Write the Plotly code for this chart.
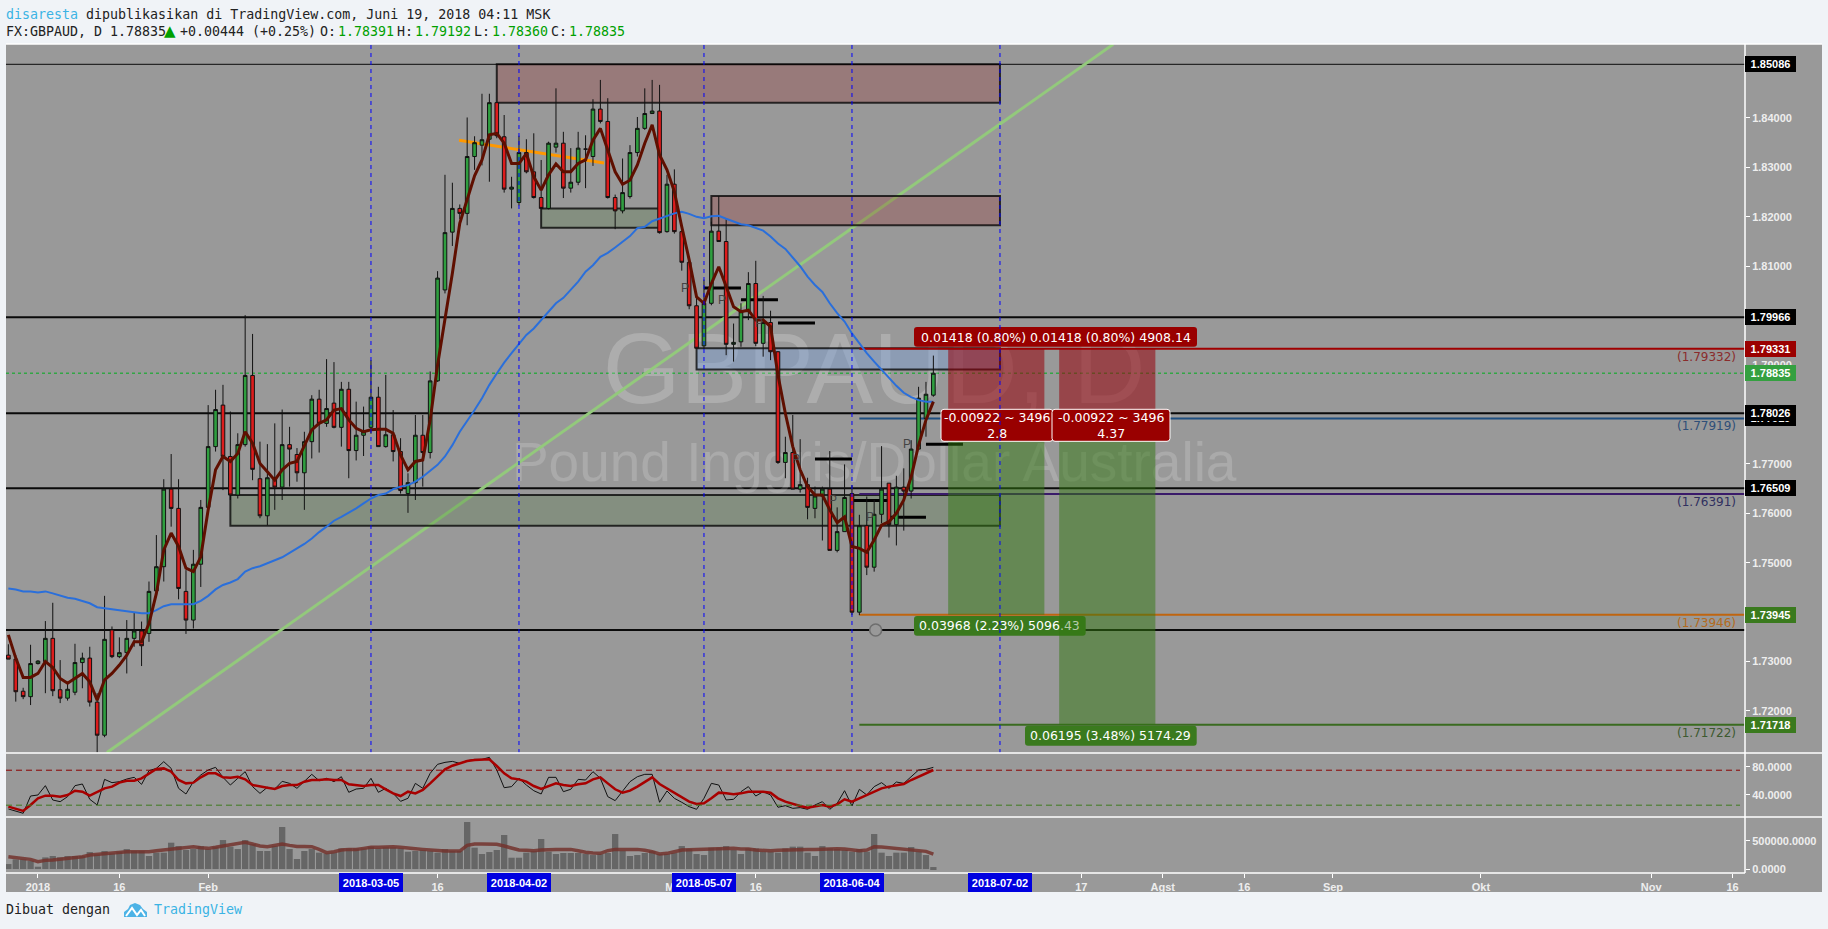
import numpy as np
import pandas as pd
import plotly.graph_objs as go

# daily bars, 2017-12-26 to 2018-06-19
bar_dates = pd.bdate_range("2017-12-26", periods=126)

opens = [
    1.7313, 1.7305, 1.7240, 1.7229, 1.7296, 1.7300, 1.7347, 1.7243, 1.7226, 1.7238,
    1.7298, 1.7307, 1.7218, 1.7151, 1.7364, 1.7310, 1.7318, 1.7347, 1.7362, 1.7357,
    1.7443, 1.7492, 1.7649, 1.7610, 1.7442, 1.7384, 1.7497, 1.7612, 1.7735, 1.7819,
    1.7715, 1.7637, 1.7739, 1.7879, 1.7670, 1.7595, 1.7672, 1.7653, 1.7739, 1.7719,
    1.7682, 1.7745, 1.7831, 1.7782, 1.7823, 1.7774, 1.7851, 1.7727, 1.7758, 1.7774,
    1.7835, 1.7735, 1.7759, 1.7725, 1.7640, 1.7662, 1.7758, 1.7723, 1.7868, 1.8052,
    1.8169, 1.8217, 1.8207, 1.8322, 1.8345, 1.8357, 1.8431, 1.8362, 1.8256, 1.8229,
    1.8330, 1.8291, 1.8239, 1.8217, 1.8341, 1.8349, 1.8258, 1.8270, 1.8337, 1.8322,
    1.8418, 1.8393, 1.8239, 1.8212, 1.8241, 1.8330, 1.8379, 1.8409, 1.8414, 1.8170,
    1.8266, 1.8170, 1.8108, 1.8020, 1.7939, 1.8025, 1.8171, 1.8150, 1.7942, 1.7947,
    1.8008, 1.8065, 1.7944, 1.7986, 1.7927, 1.7703, 1.7723, 1.7649, 1.7658, 1.7610,
    1.7635, 1.7649, 1.7525, 1.7563, 1.7640, 1.7400, 1.7575, 1.7491, 1.7598, 1.7661,
    1.7577, 1.7653, 1.7645, 1.7730, 1.7792, 1.78391,
]
highs = [
    1.7335, 1.7313, 1.7247, 1.7334, 1.7303, 1.7382, 1.7419, 1.7303, 1.7255, 1.7336,
    1.7318, 1.7330, 1.7236, 1.7433, 1.7371, 1.7349, 1.7384, 1.7399, 1.7381, 1.7462,
    1.7556, 1.7669, 1.7720, 1.7669, 1.7485, 1.7526, 1.7627, 1.7819, 1.7850, 1.7860,
    1.7806, 1.7762, 1.8001, 1.7963, 1.7745, 1.7740, 1.7782, 1.7810, 1.7775, 1.7732,
    1.7765, 1.7839, 1.7850, 1.7912, 1.7906, 1.7866, 1.7866, 1.7826, 1.7816, 1.7910,
    1.7856, 1.7880, 1.7809, 1.7752, 1.7681, 1.7799, 1.7799, 1.7887, 1.8090, 1.8285,
    1.8269, 1.8225, 1.8401, 1.8363, 1.8449, 1.8449, 1.8431, 1.8406, 1.8281, 1.8364,
    1.8357, 1.8369, 1.8315, 1.8352, 1.8460, 1.8372, 1.8339, 1.8372, 1.8365, 1.8438,
    1.8477, 1.8440, 1.8245, 1.8318, 1.8345, 1.8402, 1.8460, 1.8477, 1.8467, 1.8285,
    1.8296, 1.8178, 1.8112, 1.8038, 1.8073, 1.8190, 1.8242, 1.8195, 1.7984, 1.8025,
    1.8088, 1.8111, 1.8040, 1.8010, 1.7928, 1.7755, 1.7799, 1.7750, 1.7672, 1.7654,
    1.7654, 1.7726, 1.7612, 1.7699, 1.7657, 1.7597, 1.7634, 1.7627, 1.7736, 1.7661,
    1.7676, 1.7691, 1.7748, 1.7856, 1.7866, 1.79192,
]
lows = [
    1.7305, 1.7219, 1.7224, 1.7212, 1.7294, 1.7236, 1.7230, 1.7216, 1.7221, 1.7232,
    1.7246, 1.7209, 1.7116, 1.7147, 1.7307, 1.7307, 1.7276, 1.7330, 1.7291, 1.7340,
    1.7438, 1.7462, 1.7573, 1.7426, 1.7356, 1.7367, 1.7451, 1.7610, 1.7725, 1.7647,
    1.7627, 1.7630, 1.7735, 1.7667, 1.7590, 1.7576, 1.7607, 1.7627, 1.7654, 1.7664,
    1.7607, 1.7711, 1.7723, 1.7775, 1.7772, 1.7735, 1.7671, 1.7707, 1.7716, 1.7761,
    1.7735, 1.7733, 1.7705, 1.7640, 1.7601, 1.7627, 1.7654, 1.7711, 1.7866, 1.8045,
    1.8141, 1.8195, 1.8183, 1.8295, 1.8304, 1.8271, 1.8359, 1.8249, 1.8217, 1.8223,
    1.8288, 1.8237, 1.8217, 1.8215, 1.8330, 1.8238, 1.8249, 1.8264, 1.8258, 1.8303,
    1.8389, 1.8237, 1.8175, 1.8207, 1.8237, 1.8322, 1.8376, 1.8408, 1.8166, 1.8168,
    1.8166, 1.8091, 1.8013, 1.7933, 1.7933, 1.8021, 1.8150, 1.7920, 1.7907, 1.7937,
    1.7991, 1.7938, 1.7917, 1.7910, 1.7700, 1.7671, 1.7649, 1.7642, 1.7588, 1.7590,
    1.7545, 1.7525, 1.7521, 1.7563, 1.7394, 1.7394, 1.7475, 1.7482, 1.7580, 1.7551,
    1.7535, 1.7565, 1.7630, 1.7729, 1.7755, 1.78360,
]
closes = [
    1.7305, 1.7239, 1.7229, 1.7296, 1.7301, 1.7347, 1.7241, 1.7226, 1.7244, 1.7298,
    1.7307, 1.7218, 1.7151, 1.7345, 1.7310, 1.7318, 1.7347, 1.7362, 1.7332, 1.7442,
    1.7492, 1.7649, 1.7610, 1.7448, 1.7384, 1.7497, 1.7612, 1.7735, 1.7810, 1.7715,
    1.7637, 1.7739, 1.7879, 1.7689, 1.7595, 1.7672, 1.7653, 1.7739, 1.7730, 1.7682,
    1.7745, 1.7831, 1.7782, 1.7812, 1.7774, 1.7851, 1.7727, 1.7758, 1.7765, 1.7835,
    1.7735, 1.7759, 1.7725, 1.7646, 1.7662, 1.7758, 1.7723, 1.7868, 1.8076, 1.8168,
    1.8217, 1.8207, 1.8322, 1.8350, 1.8356, 1.8431, 1.8364, 1.8256, 1.8260, 1.8330,
    1.8291, 1.8239, 1.8217, 1.8349, 1.8349, 1.8258, 1.8270, 1.8339, 1.8337, 1.8418,
    1.8393, 1.8239, 1.8212, 1.8249, 1.8330, 1.8379, 1.8409, 1.8414, 1.8168, 1.8266,
    1.8170, 1.8108, 1.8020, 1.7934, 1.8025, 1.8171, 1.8150, 1.7942, 1.7946, 1.8008,
    1.8065, 1.7944, 1.7986, 1.7927, 1.7703, 1.7723, 1.7649, 1.7658, 1.7612, 1.7635,
    1.7649, 1.7525, 1.7563, 1.7632, 1.7400, 1.7575, 1.7491, 1.7598, 1.7649, 1.7577,
    1.7653, 1.7645, 1.7730, 1.7833, 1.7841, 1.78835,
]
fast_ma = [
    1.7354, 1.7307, 1.7268, 1.7268, 1.7276, 1.7300, 1.7288, 1.7266, 1.7256, 1.7266,
    1.7276, 1.7259, 1.7222, 1.7263, 1.7276, 1.7293, 1.7313, 1.7340, 1.7340, 1.7377,
    1.7438, 1.7526, 1.7560, 1.7533, 1.7489, 1.7482, 1.7512, 1.7607, 1.7688, 1.7715,
    1.7705, 1.7721, 1.7765, 1.7742, 1.7701, 1.7684, 1.7667, 1.7688, 1.7701, 1.7705,
    1.7738, 1.7769, 1.7782, 1.7789, 1.7809, 1.7812, 1.7789, 1.7772, 1.7765, 1.7769,
    1.7770, 1.7770, 1.7762, 1.7718, 1.7688, 1.7705, 1.7708, 1.7789, 1.7900, 1.7990,
    1.8086, 1.8187, 1.8234, 1.8283, 1.8315, 1.8366, 1.8369, 1.8349, 1.8308, 1.8308,
    1.8328, 1.8281, 1.8254, 1.8285, 1.8307, 1.8291, 1.8291, 1.8308, 1.8315, 1.8355,
    1.8379, 1.8335, 1.8291, 1.8266, 1.8274, 1.8305, 1.8349, 1.8386, 1.8325, 1.8295,
    1.8251, 1.8180, 1.8113, 1.8038, 1.8025, 1.8065, 1.8099, 1.8059, 1.8018, 1.8008,
    1.8011, 1.7991, 1.7991, 1.7978, 1.7880, 1.7802, 1.7735, 1.7688, 1.7654, 1.7637,
    1.7637, 1.7607, 1.7581, 1.7593, 1.7533, 1.7529, 1.7521, 1.7546, 1.7576, 1.7583,
    1.7600, 1.7627, 1.7674, 1.7738, 1.7789, 1.7826,
]
slow_ma = [
    1.7448, 1.7446, 1.7442, 1.7442, 1.7440, 1.7442, 1.7438, 1.7433, 1.7429, 1.7427,
    1.7423, 1.7418, 1.7410, 1.7408, 1.7406, 1.7404, 1.7402, 1.7400, 1.7398, 1.7398,
    1.7404, 1.7412, 1.7416, 1.7416, 1.7416, 1.7416, 1.7423, 1.7433, 1.7446, 1.7455,
    1.7460, 1.7467, 1.7482, 1.7489, 1.7493, 1.7499, 1.7504, 1.7511, 1.7520, 1.7529,
    1.7538, 1.7549, 1.7562, 1.7573, 1.7585, 1.7593, 1.7601, 1.7610, 1.7620, 1.7630,
    1.7637, 1.7640, 1.7649, 1.7654, 1.7657, 1.7664, 1.7674, 1.7686, 1.7698, 1.7715,
    1.7738, 1.7765, 1.7786, 1.7809, 1.7833, 1.7860, 1.7883, 1.7905, 1.7924, 1.7943,
    1.7961, 1.7974, 1.7991, 1.8008, 1.8025, 1.8036, 1.8052, 1.8069, 1.8089, 1.8102,
    1.8119, 1.8127, 1.8138, 1.8150, 1.8161, 1.8177, 1.8180, 1.8191, 1.8196, 1.8202,
    1.8207, 1.8210, 1.8206, 1.8200, 1.8197, 1.8201, 1.8202, 1.8196, 1.8190, 1.8185,
    1.8183, 1.8178, 1.8172, 1.8160, 1.8146, 1.8135, 1.8118, 1.8100, 1.8079, 1.8062,
    1.8048, 1.8025, 1.8005, 1.7988, 1.7964, 1.7944, 1.7924, 1.7907, 1.7891, 1.7873,
    1.7858, 1.7844, 1.7835, 1.7829, 1.7826, 1.7826,
]
rsi = [
    19.6, 16.2, 13.4, 38.1, 39.6, 52.9, 32.4, 30.0, 37.2, 52.9,
    55.3, 33.4, 25.3, 61.9, 57.2, 58.6, 62.4, 64.8, 54.8, 74.3,
    77.6, 87.2, 77.6, 49.1, 41.0, 58.6, 68.1, 75.3, 79.1, 64.8,
    53.8, 63.4, 72.9, 51.5, 41.9, 50.5, 48.1, 59.1, 56.2, 49.1,
    58.6, 69.1, 60.0, 63.4, 58.6, 65.7, 43.4, 48.1, 49.1, 63.4,
    43.4, 49.1, 41.9, 30.5, 34.8, 56.2, 49.1, 70.5, 83.4, 86.2,
    87.6, 84.8, 88.6, 90.5, 90.5, 93.4, 75.3, 50.0, 51.5, 63.4,
    53.8, 45.7, 41.0, 64.8, 64.8, 44.3, 47.7, 61.9, 61.0, 72.9,
    63.4, 37.2, 31.5, 44.3, 58.6, 65.7, 69.1, 69.1, 29.1, 45.3,
    34.8, 29.1, 22.9, 19.1, 34.8, 56.2, 53.8, 32.4, 33.4, 44.3,
    51.5, 38.1, 44.3, 39.6, 22.0, 24.3, 20.5, 21.5, 19.1, 25.3,
    30.0, 19.1, 27.7, 45.7, 23.9, 47.7, 39.6, 51.5, 57.2, 49.1,
    58.1, 56.2, 65.7, 75.3, 76.2, 79.1,
]
rsi_ma = [
    22.9, 19.6, 16.7, 25.3, 34.8, 38.6, 38.6, 37.2, 39.6, 45.7,
    44.3, 38.6, 44.3, 49.1, 51.5, 57.2, 60.0, 60.0, 63.4, 70.5,
    76.7, 77.6, 72.9, 61.0, 56.2, 57.2, 64.8, 70.5, 70.5, 64.8,
    64.3, 65.7, 61.9, 53.8, 51.5, 50.0, 48.1, 52.4, 53.8, 53.8,
    58.6, 61.0, 61.0, 61.9, 61.0, 61.0, 54.8, 53.8, 52.4, 53.8,
    53.8, 47.7, 41.9, 38.1, 44.3, 41.9, 46.7, 56.2, 66.7, 76.2,
    81.4, 84.8, 88.1, 89.5, 89.5, 90.5, 81.0, 70.5, 63.4, 61.9,
    58.6, 52.4, 48.1, 52.4, 56.2, 53.8, 52.4, 54.8, 56.2, 61.9,
    64.8, 56.2, 47.7, 42.9, 45.7, 51.5, 58.6, 64.8, 55.3, 49.1,
    42.9, 37.2, 30.0, 26.7, 27.7, 34.8, 42.9, 41.9, 40.5, 41.9,
    44.3, 44.3, 44.3, 42.9, 34.8, 30.0, 26.7, 23.9, 21.5, 23.9,
    25.3, 22.9, 26.2, 33.4, 30.0, 34.8, 39.6, 44.3, 49.1, 51.5,
    52.9, 55.3, 61.0, 65.7, 70.5, 75.3,
]
volume = [
    88000, 171000, 171000, 147000, 41000, 206000, 230000, 206000, 230000, 230000,
    230000, 300000, 259000, 318000, 277000, 306000, 353000, 318000, 318000, 230000,
    289000, 289000, 465000, 406000, 336000, 353000, 406000, 353000, 395000, 512000,
    395000, 353000, 512000, 442000, 318000, 318000, 406000, 742000, 353000, 177000,
    318000, 353000, 289000, 277000, 289000, 365000, 365000, 365000, 365000, 395000,
    365000, 383000, 383000, 365000, 306000, 318000, 336000, 318000, 289000, 353000,
    318000, 318000, 830000, 377000, 265000, 300000, 336000, 601000, 200000, 200000,
    289000, 318000, 530000, 306000, 265000, 283000, 283000, 283000, 265000, 247000,
    265000, 283000, 618000, 324000, 230000, 247000, 283000, 318000, 265000, 265000,
    283000, 406000, 353000, 265000, 247000, 377000, 377000, 406000, 336000, 265000,
    365000, 365000, 306000, 306000, 289000, 365000, 395000, 395000, 289000, 230000,
    406000, 365000, 353000, 336000, 306000, 353000, 306000, 618000, 289000, 230000,
    289000, 289000, 389000, 306000, 247000, 35000,
]
volume_ma = [
    218000, 200000, 183000, 171000, 130000, 153000, 159000, 171000, 188000, 206000,
    218000, 247000, 259000, 277000, 289000, 306000, 306000, 306000, 306000, 306000,
    324000, 336000, 347000, 365000, 383000, 395000, 377000, 365000, 383000, 406000,
    424000, 453000, 471000, 442000, 406000, 395000, 424000, 442000, 418000, 400000,
    400000, 395000, 347000, 289000, 306000, 336000, 347000, 347000, 365000, 383000,
    383000, 389000, 395000, 383000, 365000, 359000, 347000, 336000, 318000, 318000,
    318000, 318000, 418000, 442000, 442000, 442000, 436000, 406000, 365000, 336000,
    330000, 324000, 336000, 347000, 347000, 347000, 347000, 324000, 295000, 283000,
    277000, 324000, 347000, 347000, 347000, 347000, 330000, 306000, 265000, 277000,
    306000, 336000, 342000, 347000, 347000, 353000, 359000, 365000, 365000, 353000,
    353000, 336000, 324000, 324000, 330000, 336000, 347000, 347000, 347000, 347000,
    353000, 359000, 359000, 353000, 342000, 324000, 336000, 395000, 389000, 377000,
    365000, 353000, 342000, 336000, 312000, 265000,
]

# horizontal levels and their axis badges
level_prices = [1.85086, 1.79966, 1.78026, 1.76509, 1.7364]
badge_prices = [1.77919, 1.85086, 1.79966, 1.79331, 1.78835, 1.78026, 1.76509, 1.73945, 1.71718]
badge_colors = ['#000000', '#000000', '#000000', '#9b0000', '#34a040', '#000000', '#000000',
                '#3a7a1e', '#3a7a1e']

# supply/demand zones: first bar, last bar, low, high
zone_start = [62, 91, 68, 26, 89]
zone_end = [130, 130, 84, 130, 130]
zone_low = [1.8431, 1.8183, 1.8178, 1.7575, 1.7891]
zone_high = [1.85086, 1.8242, 1.8217, 1.7637, 1.7934]
zone_fill = ['rgba(150,0,0,0.2)', 'rgba(150,0,0,0.2)', 'rgba(60,110,40,0.22)',
             'rgba(60,110,40,0.22)', 'rgba(120,160,220,0.4)']

# position tool
entry_price = 1.77919
stop_price = 1.79332
target_prices = [1.73946, 1.71722]
position_start = [123, 138]
position_end = [136, 151]
order_prices = [1.79332, 1.77919, 1.76391, 1.73946, 1.71722]
order_colors = ['#a00000', '#1f4f80', '#3a1a6a', '#c0650f', '#3a6b20']
order_text_colors = ['#8a2c2c', '#2f4f78', '#30305f', '#b36a20', '#3d5a30']

# pivots
pivot_start = [90, 95, 100, 105, 110, 115, 120]
pivot_price = [1.8056, 1.8032, 1.7985, 1.7710, 1.7626, 1.7592, 1.7740]

vline_dates = ['2018-03-05', '2018-04-02', '2018-05-07', '2018-06-04', '2018-07-02']

tick_dates = ['2018-01-01', '2018-01-16', '2018-02-01', '2018-03-05', '2018-03-16',
              '2018-04-02', '2018-05-01', '2018-05-07', '2018-05-16', '2018-06-04',
              '2018-07-02', '2018-07-17', '2018-08-01', '2018-08-16', '2018-09-03',
              '2018-10-01', '2018-11-01', '2018-11-16']
tick_labels = ['2018', '16', 'Feb', '', '16', '', 'Mei', '', '16', '', '',
               '17', 'Agst', '16', 'Sep', 'Okt', 'Nov', '16']

price_ticks = [1.72, 1.73, 1.75, 1.76, 1.77, 1.79, 1.81, 1.82, 1.83, 1.84]

for col in [opens, highs, lows, closes, fast_ma, slow_ma, rsi, rsi_ma, volume, volume_ma]:
    assert len(col) == len(bar_dates)

# page geometry, pixels of the 1828x929 window
WIDTH, HEIGHT = 1828, 929
LEFT, RIGHT, TOP, BOTTOM = 6, 1745, 44, 873
MAIN_BOTTOM, RSI_BOTTOM = 753, 817
BG = '#f0f3f7'
GRAY = '#999999'
TICK_FONT = dict(family='Liberation Sans', size=11, color='#eeeeee', weight='bold')
MONO = 'DejaVu Sans Mono'


def bar_no(date):
    """Position of a date on the business-day axis, 2018-01-01 is bar 0."""
    return int(np.busday_count('2018-01-01', str(date)[:10]))


def paper_x(px):
    return (px - LEFT) / (RIGHT - LEFT)


def paper_y(py):
    return (BOTTOM - py) / (BOTTOM - TOP)


def rounded_box(x0, y0, x1, y1, fill, border=None, r=3):
    """Label background with small round corners, given in page pixels."""
    pts = [('M', x0 + r, y0), ('L', x1 - r, y0), ('Q', x1, y0), ('', x1, y0 + r),
           ('L', x1, y1 - r), ('Q', x1, y1), ('', x1 - r, y1), ('L', x0 + r, y1),
           ('Q', x0, y1), ('', x0, y1 - r), ('L', x0, y0 + r), ('Q', x0, y0), ('', x0 + r, y0)]
    path = ' '.join('%s %.5f,%.5f' % (c, paper_x(a), paper_y(b)) for c, a, b in pts) + ' Z'
    return dict(type='path', xref='paper', yref='paper', layer='above', path=path,
                fillcolor=fill,
                line=dict(color=border, width=1) if border else dict(width=0))


x = [bar_no(d) for d in bar_dates]

fig = go.Figure()
fig.add_trace(go.Candlestick(
    x=x, open=opens, high=highs, low=lows, close=closes,
    increasing=dict(fillcolor='#2f9e3f', line=dict(color='#111111', width=1)),
    decreasing=dict(fillcolor='#dd1c1c', line=dict(color='#111111', width=1)),
    yaxis='y', hoverinfo='skip'))
fig.add_trace(go.Scatter(x=x, y=slow_ma, mode='lines', yaxis='y',
                         line=dict(color='#2a6fdb', width=2)))
fig.add_trace(go.Scatter(x=x, y=fast_ma, mode='lines', yaxis='y',
                         line=dict(color='#5f0f00', width=3)))
fig.add_trace(go.Scatter(x=[113.2], y=[level_prices[4]], mode='markers', yaxis='y',
                         marker=dict(size=12, color=GRAY,
                                     line=dict(color='#6e6e6e', width=1.5))))
fig.add_trace(go.Scatter(x=x, y=rsi, mode='lines', yaxis='y2',
                         line=dict(color='#111111', width=1)))
fig.add_trace(go.Scatter(x=x, y=rsi_ma, mode='lines', yaxis='y2',
                         line=dict(color='#a80000', width=2.5)))
fig.add_trace(go.Bar(x=x, y=volume, yaxis='y3', marker_color='#666666',
                     marker_line_width=0))
fig.add_trace(go.Scatter(x=x, y=volume_ma, mode='lines', yaxis='y3',
                         line=dict(color='rgba(115,50,45,0.85)', width=3.5)))

shapes = []
# gray card behind plot and scales
shapes.append(dict(type='rect', xref='paper', yref='paper', layer='below',
                   x0=0, x1=paper_x(1822), y0=paper_y(892), y1=1,
                   fillcolor=GRAY, line_width=0))
# watermark, kept under the candles
for txt, center, size, alpha in [('GBPAUD, D', 1.7912, 100, 0.2),
                                 ('Pound Inggris/Dollar Australia', 1.7714, 55, 0.17)]:
    shapes.append(dict(type='rect', xref='x', yref='y', layer='below',
                       x0=30, x1=196, y0=center - 0.01, y1=center + 0.01,
                       line_width=0, fillcolor='rgba(0,0,0,0)',
                       label=dict(text=txt, textposition='middle center',
                                  font=dict(family='Liberation Sans', size=size,
                                            color='rgba(255,255,255,%s)' % alpha))))
# levels
for i, p in enumerate(level_prices):
    shapes.append(dict(type='line', xref='paper', yref='y', layer='below',
                       x0=0, x1=1, y0=p, y1=p,
                       line=dict(color='#0a0a0a', width=1 if i == 0 else 2)))
# last price
shapes.append(dict(type='line', xref='paper', yref='y', layer='below',
                   x0=0, x1=1, y0=closes[-1], y1=closes[-1],
                   line=dict(color='#32a645', width=1.5, dash='dot')))
# trend lines
shapes.append(dict(type='line', xref='x', yref='y', layer='below',
                   x0=9.32, x1=145.3, y0=1.7116, y1=1.8549,
                   line=dict(color='#93c97c', width=3)))
shapes.append(dict(type='line', xref='x', yref='y', layer='below',
                   x0=56.9, x1=76.5, y0=1.8355, y1=1.8309,
                   line=dict(color='#ff9800', width=3)))
# zones
for x0, x1, y0, y1, fill in zip(zone_start, zone_end, zone_low, zone_high, zone_fill):
    shapes.append(dict(type='rect', xref='x', yref='y', layer='below',
                       x0=x0, x1=x1, y0=y0, y1=y1, fillcolor=fill,
                       line=dict(color='rgba(0,0,0,0.75)', width=2)))
# position tool
for p, c in zip(order_prices, order_colors):
    shapes.append(dict(type='line', xref='x', yref='y', layer='below',
                       x0=111, x1=230.6, y0=p, y1=p, line=dict(color=c, width=2)))
# label boxes that the green regions run over, so drawn before them
shapes.append(rounded_box(914, 616, 1085.7, 635.7, '#3a7a1e'))
for x0, x1, target in zip(position_start, position_end, target_prices):
    shapes.append(dict(type='rect', xref='x', yref='y', layer='above',
                       x0=x0, x1=x1, y0=entry_price, y1=stop_price,
                       fillcolor='rgba(150,0,10,0.55)', line_width=0))
    shapes.append(dict(type='rect', xref='x', yref='y', layer='above',
                       x0=x0, x1=x1, y0=target, y1=entry_price,
                       fillcolor='rgba(50,120,15,0.5)', line_width=0))
shapes.append(rounded_box(914, 327, 1197, 346.7, '#990000'))
shapes.append(rounded_box(941, 409.3, 1053, 441.3, '#990000', '#ffffff'))
shapes.append(rounded_box(1052, 409.3, 1170, 441.3, '#990000', '#ffffff'))
shapes.append(rounded_box(1025, 725.7, 1196.7, 745.7, '#3a7a1e'))
# pivots
for s, p in zip(pivot_start, pivot_price):
    shapes.append(dict(type='line', xref='x', yref='y', layer='below',
                       x0=s, x1=s + 5, y0=p, y1=p, line=dict(color='#000000', width=3)))
# date markers
for d in vline_dates:
    shapes.append(dict(type='line', xref='x', yref='y', layer='above',
                       x0=bar_no(d), x1=bar_no(d), y0=1.7115, y1=1.85497,
                       line=dict(color='#0000ff', width=1, dash='4px,4px')))
# rsi bands
for level, color in [(75, '#8b0000'), (25, '#3e7a1e')]:
    shapes.append(dict(type='line', xref='paper', yref='y2', layer='above',
                       x0=0, x1=paper_x(1740), y0=level, y1=level,
                       line=dict(color=color, width=1, dash='6px,4px')))
# pane separators and scale border
for py, px_end in [(TOP, 1822), (MAIN_BOTTOM, 1822), (RSI_BOTTOM, 1822), (BOTTOM, RIGHT)]:
    shapes.append(dict(type='line', xref='paper', yref='paper', layer='above',
                       x0=0, x1=paper_x(px_end), y0=paper_y(py), y1=paper_y(py),
                       line=dict(color='#ffffff', width=1.5)))
shapes.append(dict(type='line', xref='paper', yref='paper', layer='above',
                   x0=1, x1=1, y0=0, y1=1, line=dict(color='#ffffff', width=1.5)))
# TradingView logo in the footer
cloud = [(124, 917), (124, 912), (128, 909), (130, 905), (135, 903), (140, 905), (143, 909),
         (147, 912), (147, 917)]
zigzag = [(126, 916), (132, 908), (137, 915), (141, 910), (145, 916)]
path = lambda pts, end: 'M ' + ' L '.join('%.5f,%.5f' % (paper_x(a), paper_y(b)) for a, b in pts) + end
shapes.append(dict(type='path', xref='paper', yref='paper', path=path(cloud, ' Z'),
                   fillcolor='#4db3e6', line_width=0))
shapes.append(dict(type='path', xref='paper', yref='paper', path=path(zigzag, ''),
                   fillcolor='rgba(0,0,0,0)', line=dict(color='#ffffff', width=2)))

annotations = []


def page_text(px, py, text, color='#222222', size=13.3, family=MONO, anchor='left', weight=None):
    font = dict(family=family, size=size, color=color)
    if weight:
        font['weight'] = weight
    annotations.append(dict(xref='paper', yref='paper', x=paper_x(px), y=paper_y(py),
                            xanchor=anchor, yanchor='middle', showarrow=False, text=text,
                            font=font, borderpad=0, borderwidth=0))


page_text(6, 14, '<span style="color:#3bb3e4">disaresta</span> dipublikasikan di '
                 'TradingView.com, Juni 19, 2018 04:11 MSK')
page_text(6, 32, 'FX:GBPAUD, D 1.78835')
page_text(164, 31, '▲', color='#00a000', size=15, family='DejaVu Sans')
page_text(180, 32, '+0.00444 (+0.25%)')
for px_label, px_value, lab, val in [(320, 338, 'O:', '1.78391'), (397, 415, 'H:', '1.79192'),
                                     (474, 492, 'L:', '1.78360'), (551, 569, 'C:', '1.78835')]:
    page_text(px_label, 32, lab)
    page_text(px_value, 32, val, color='#00a000')
page_text(6, 909, 'Dibuat dengan')
page_text(154, 909, 'TradingView', color='#3bb3e4')

# price badges on the scale
for p, c in zip(badge_prices, badge_colors):
    annotations.append(dict(xref='paper', yref='y', x=1, y=p, xanchor='left', yanchor='middle',
                            showarrow=False, text='%.5f' % p, bgcolor=c, width=51, height=16,
                            align='center', borderpad=0, borderwidth=0,
                            font=dict(family='Liberation Sans', size=11, color='#ffffff',
                                      weight='bold')))
# prices at the right of the order lines
for p, c in zip(order_prices, order_text_colors):
    annotations.append(dict(xref='paper', yref='y', x=paper_x(1738), y=p, xanchor='right',
                            yanchor='middle', yshift=-8, showarrow=False,
                            text='(%.5f)' % p,
                            font=dict(family='DejaVu Sans', size=12, color=c)))
# position label texts, boxes are the rounded shapes above
label_font = dict(family='DejaVu Sans', size=12.5, color='#ffffff')
for cx, cy, text in [
        (1055.5, 337, '0.01418 (0.80%) 0.01418 (0.80%) 4908.14'),
        (997, 425.3, '-0.00922 ~ 3496<br>2.8'),
        (1111, 425.3, '-0.00922 ~ 3496<br>4.37'),
        (999.8, 625.8, '0.03968 (2.23%) 5096<span style="color:#b4c9a8">.43</span>'),
        (1110.8, 735.7, '0.06195 (3.48%) 5174.29')]:
    page_text(cx, cy, text, color='#ffffff', size=12.5, family='DejaVu Sans', anchor='center')
# pivot letters
for s, p in zip(pivot_start, pivot_price):
    annotations.append(dict(xref='x', yref='y', x=s - 2.5, y=p, showarrow=False, text='P',
                            font=dict(family='Liberation Sans', size=12, color='#444444')))
# blue date badges on the time scale
for d in vline_dates:
    annotations.append(dict(xref='x', yref='paper', x=bar_no(d), y=paper_y(882.5),
                            xanchor='center', yanchor='middle', showarrow=False, text=d,
                            width=64, height=19, bgcolor='#0000e0', borderpad=0, borderwidth=0,
                            font=dict(family='Liberation Sans', size=11, color='#ffffff',
                                      weight='bold')))

pane_h = BOTTOM - TOP
fig.update_layout(
    width=WIDTH, height=HEIGHT, autosize=False, showlegend=False,
    margin=dict(l=LEFT, r=WIDTH - RIGHT, t=TOP, b=HEIGHT - BOTTOM, pad=0),
    paper_bgcolor=BG, plot_bgcolor=GRAY, bargap=0.15, hovermode=False,
    shapes=shapes, annotations=annotations,
    xaxis=dict(domain=[0, 1], anchor='y3', range=[-4.32, 230.68], showgrid=False,
               zeroline=False, rangeslider=dict(visible=False),
               tickmode='array', tickvals=[bar_no(d) for d in tick_dates], ticktext=tick_labels,
               ticks='outside', ticklen=4, tickcolor='#ffffff', tickfont=TICK_FONT),
    yaxis=dict(domain=[(BOTTOM - MAIN_BOTTOM) / pane_h, 1], anchor='x', side='right',
               range=[1.7115, 1.85497], showgrid=False, zeroline=False,
               tickmode='array', tickvals=price_ticks, tickformat='.5f',
               ticks='outside', ticklen=4, tickcolor='#ffffff', tickfont=TICK_FONT),
    yaxis2=dict(domain=[(BOTTOM - RSI_BOTTOM) / pane_h, (BOTTOM - MAIN_BOTTOM) / pane_h],
                anchor='x', side='right', range=[8.1, 99.6], showgrid=False, zeroline=False,
                tickmode='array', tickvals=[40, 80], tickformat='.4f',
                ticks='outside', ticklen=4, tickcolor='#ffffff', tickfont=TICK_FONT),
    yaxis3=dict(domain=[0, (BOTTOM - RSI_BOTTOM) / pane_h], anchor='x', side='right',
                range=[-70000, 918700], showgrid=False, zeroline=False,
                tickmode='array', tickvals=[0, 500000], tickformat='.4f',
                ticks='outside', ticklen=4, tickcolor='#ffffff', tickfont=TICK_FONT),
)

fig.write_html("out.html", config={'displayModeBar': False},
               post_script="document.body.style.margin='0';document.body.style.overflow='hidden';")
